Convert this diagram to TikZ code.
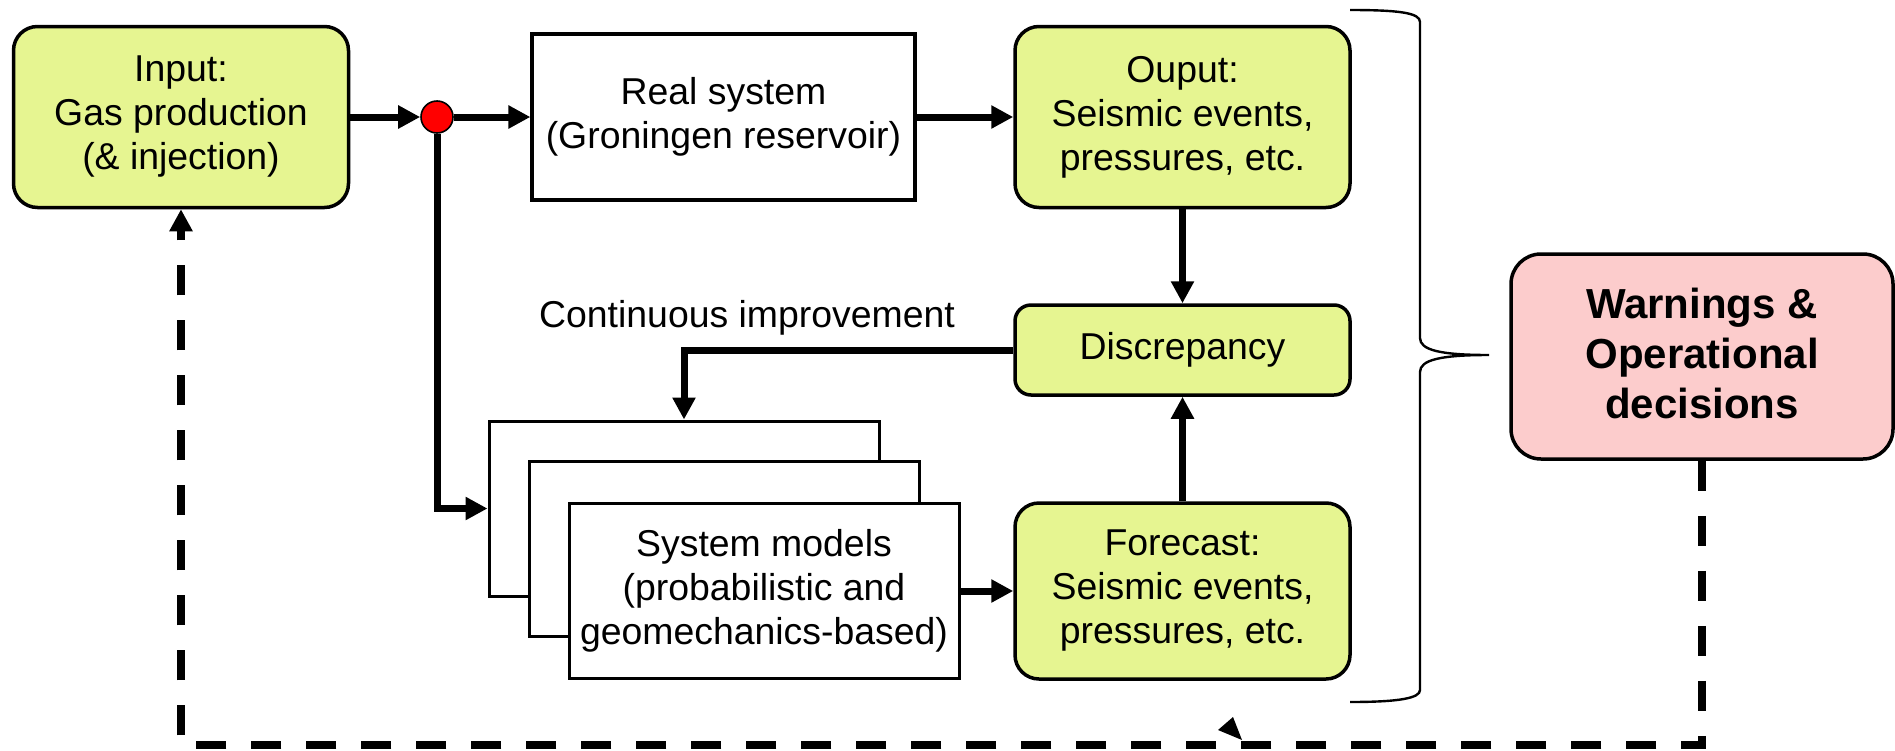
\documentclass[tikz,border=0pt]{standalone}
\usepackage{fontspec}
\setmainfont{Liberation Sans}
\usetikzlibrary{arrows.meta}
\definecolor{boxgreen}{RGB}{230,245,145}
\definecolor{boxpink}{RGB}{252,204,204}

\begin{document}
\begin{tikzpicture}[x=0.5pt, y=-0.5pt,
  every node/.style={font=\fontsize{18.7}{22}\selectfont, align=center, inner sep=0pt},
  greenbox/.style={draw, line width=1.75pt, rounded corners=12pt, fill=boxgreen, minimum width=167.5pt},
  plainbox/.style={draw, line width=1.5pt, fill=white},
  modelbox/.style={plainbox, minimum width=195pt, minimum height=87.5pt},
  flow/.style={line width=3.5pt, -{Triangle[length=11pt,width=11pt]}},
  feedback/.style={line width=4pt, dash pattern=on 15pt off 12.5pt, -{Triangle[length=11pt,width=11pt]}}]
\useasboundingbox (0,0) rectangle (1895,750);

%boxes
\node[greenbox, minimum height=90.5pt] (input) at (181,117) {Input:\\Gas production\\(\& injection)};
\node[plainbox, line width=1.6pt, minimum width=191.5pt, minimum height=83pt] (real) at (723.5,117) {Real system\\(Groningen reservoir)};
\node[greenbox, minimum height=90.5pt] (output) at (1182.5,117) {Ouput:\\Seismic events,\\pressures, etc.};
\node[greenbox, minimum height=45pt, rounded corners=8pt] (discr) at (1182.5,350) {Discrepancy};
\node[greenbox, minimum height=88pt] (forecast) at (1182.5,591) {Forecast:\\Seismic events,\\pressures, etc.};

% stacked models
\node[modelbox] (modelC) at (684,508.5) {};
\node[modelbox] (modelB) at (724,549) {};
\node[modelbox] (modelA) at (764,591) {System models\\(probabilistic and\\geomechanics-based)};

\node[draw, line width=1.75pt, rounded corners=15pt, fill=boxpink, minimum width=191pt, minimum height=102.5pt,
  text depth=3pt, font=\bfseries\fontsize{21}{25}\selectfont] (warn) at (1702,356.5) {Warnings \&\\Operational\\decisions};

\node[circle, draw, fill=red, line width=0.8pt, minimum size=16pt] (junc) at (437,117) {};
\node (improve) at (747,318) {Continuous improvement};

%arrows
\draw[flow] (input) -- (junc);
\draw[flow] (junc) -- (real);
\draw[flow] (real) -- (output);
\draw[flow] (output) -- (discr);
\draw[flow] (forecast) -- (discr);
\draw[flow] (modelA) -- (forecast);
\draw[flow] (discr.west) -| (modelC.north);
\draw[flow] (junc.south) |- (modelC.west);

%feedback
\coordinate (fbline) at (0,745);
\draw[feedback] (warn.south) -- (warn.south |- fbline) -| (input.south);
\fill (1218,730) -- (1233,717) -- (1242,740) -- cycle;

%brace
\draw[line width=1.2pt] (1350,10) .. controls (1400,10) and (1420,13) .. (1420,22) -- (1420,338)
  .. controls (1420,350) and (1440,355) .. (1489,355)
  .. controls (1440,355) and (1420,360) .. (1420,372) -- (1420,690)
  .. controls (1420,698) and (1400,702) .. (1350,702);
\end{tikzpicture}
\end{document}
